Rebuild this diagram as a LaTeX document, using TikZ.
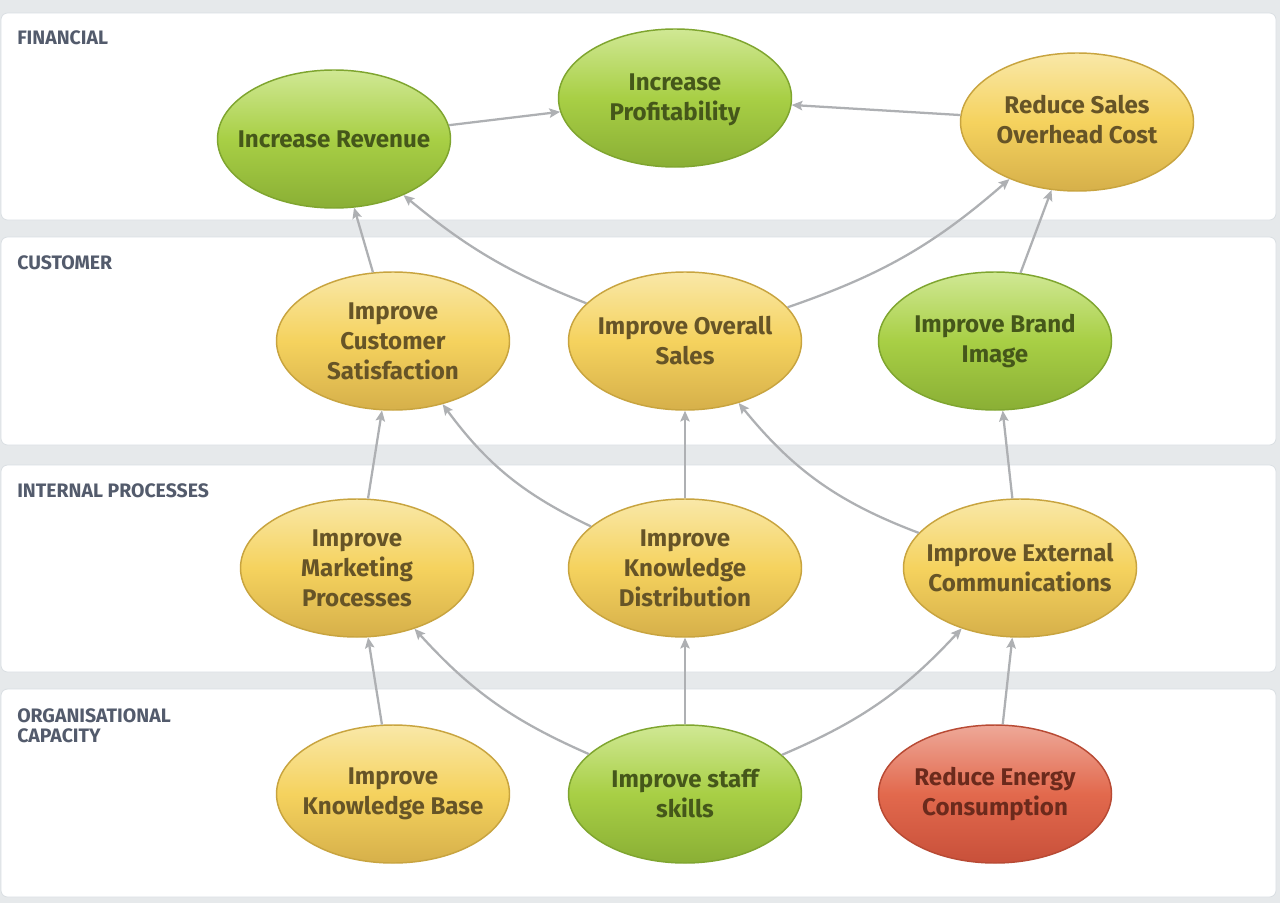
\documentclass[tikz,border=0pt]{standalone}
\usepackage{fontspec}
\setmainfont{Fira Sans}
\usetikzlibrary{arrows.meta,shapes.geometric}
\definecolor{bgc}{HTML}{E6E9EB}
\definecolor{panelB}{HTML}{DADFE3}
\definecolor{secC}{HTML}{535B6C}
\definecolor{arrC}{HTML}{AEB0B3}
\definecolor{gT}{HTML}{D0E894}
\definecolor{gM}{HTML}{A8CF45}
\definecolor{gB}{HTML}{8AAF35}
\definecolor{gD}{HTML}{7FA52F}
\definecolor{gTx}{HTML}{45571A}
\definecolor{yT}{HTML}{F9E8A8}
\definecolor{yM}{HTML}{F5D25E}
\definecolor{yB}{HTML}{D6B04A}
\definecolor{yD}{HTML}{C8A43F}
\definecolor{yTx}{HTML}{665427}
\definecolor{rT}{HTML}{EEA898}
\definecolor{rM}{HTML}{E2694D}
\definecolor{rB}{HTML}{C8503A}
\definecolor{rD}{HTML}{B84A34}
\definecolor{rTx}{HTML}{6B2A1C}
\tikzset{
  panel/.style={fill=white, draw=panelB, line width=0.6pt, rounded corners=5pt},
  sec/.style={font=\bfseries\fontsize{14.6}{16}\selectfont, text=secC, anchor=base west, inner sep=0pt},
  ell/.style={ellipse, minimum width=174.75pt, minimum height=103.5pt, inner sep=0pt, line width=1.1pt},
  gnode/.style={ell, draw=gD, top color=gT, bottom color=gB, middle color=gM},
  ynode/.style={ell, draw=yD, top color=yT, bottom color=yB, middle color=yM},
  rnode/.style={ell, draw=rD, top color=rT, bottom color=rB, middle color=rM},
  txt/.style={font=\bfseries\fontsize{18.1}{22.5}\selectfont, align=center, inner sep=0pt},
  gtxt/.style={txt, text=gTx},
  ytxt/.style={txt, text=yTx},
  rtxt/.style={txt, text=rTx},
  conn/.style={draw=arrC, line width=1.7pt, -{Stealth[length=8pt,width=7pt,inset=1.5pt]}}
}
\begin{document}
\begin{tikzpicture}[x=0.75pt,y=-0.75pt]
\useasboundingbox (0,0) rectangle (1280,903);
\fill[bgc] (0,0) rectangle (1280,903);
% panels
\draw[panel] (1,13) rectangle (1276,220);
\draw[panel] (1,237) rectangle (1276,445);
\draw[panel] (1,465) rectangle (1276,672);
\draw[panel] (1,689) rectangle (1276,897);
% section labels
\node[sec] (l1) at (17,44) {FINANCIAL};
\node[sec] (l2) at (17,269) {CUSTOMER};
\node[sec] (l3) at (17,497) {INTERNAL PROCESSES};
\node[sec] (l4a) at (17,722) {ORGANISATIONAL};
\node[sec] (l4b) at (17,742) {CAPACITY};
% ellipses
\node[gnode] (rev) at (334,139) {};
\node[gnode] (prof) at (675,98) {};
\node[ynode] (cost) at (1077,122) {};
\node[ynode] (sat) at (393,341) {};
\node[ynode] (ovs) at (685,341) {};
\node[gnode] (brand) at (995,341) {};
\node[ynode] (mkt) at (357,568) {};
\node[ynode] (kd) at (685,568) {};
\node[ynode] (ext) at (1020,568) {};
\node[ynode] (kb) at (393,794) {};
\node[gnode] (staff) at (685,794) {};
\node[rnode] (energy) at (995,794) {};
% texts
\node[gtxt] (revt) at (rev) {Increase Revenue};
\node[gtxt] (proft) at ([yshift=-1.5pt]prof) {Increase\\Profitability};
\node[ytxt] (costt) at ([yshift=1.5pt]cost) {Reduce Sales\\Overhead Cost};
\node[ytxt] (satt) at (sat) {Improve\\Customer\\Satisfaction};
\node[ytxt] (ovst) at (ovs) {Improve Overall\\Sales};
\node[gtxt] (brandt) at (brand) {Improve Brand\\Image};
\node[ytxt] (mktt) at (mkt) {Improve\\Marketing\\Processes};
\node[ytxt] (kdt) at (kd) {Improve\\Knowledge\\Distribution};
\node[ytxt] (extt) at (ext) {Improve External\\Communications};
\node[ytxt] (kbt) at (kb) {Improve\\Knowledge Base};
\node[gtxt] (stafft) at (staff) {Improve staff\\skills};
\node[rtxt] (energyt) at (energy) {Reduce Energy\\Consumption};
% connectors
\draw[conn] (rev) -- (prof);
\draw[conn] (cost) -- (prof);
\draw[conn] (sat) -- (rev);
\draw[conn] (ovs) to[bend left=9] (rev);
\draw[conn] (ovs) to[bend right=11] (cost);
\draw[conn] (brand) -- (cost);
\draw[conn] (mkt) -- (sat);
\draw[conn] (kd) to[bend left=14] (sat);
\draw[conn] (kd) -- (ovs);
\draw[conn] (ext) to[bend left=15] (ovs);
\draw[conn] (ext) -- (brand);
\draw[conn] (kb) -- (mkt);
\draw[conn] (staff) to[bend left=12] (mkt);
\draw[conn] (staff) -- (kd);
\draw[conn] (staff) to[bend right=12] (ext);
\draw[conn] (energy) -- (ext);
\end{tikzpicture}
\end{document}
